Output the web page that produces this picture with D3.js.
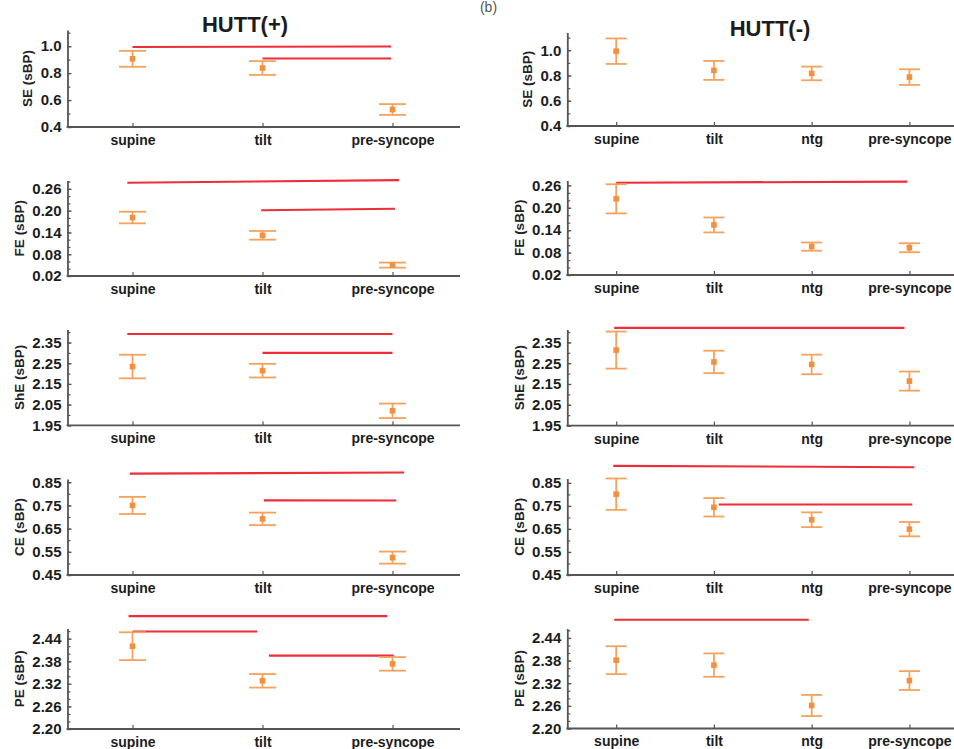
<!DOCTYPE html>
<html>
<head>
<meta charset="utf-8">
<script src="https://cdn.jsdelivr.net/npm/d3@7"></script>
<style>
  body { margin: 0; background: #fff; }
  svg { display: block; font-family: "Liberation Sans", Arial, sans-serif; }
</style>
</head>
<body>
<svg id="chart" width="954" height="749"></svg>
<script>
// ---- data ----
const categoriesPos = ["supine", "tilt", "pre-syncope"];
const categoriesNeg = ["supine", "tilt", "ntg", "pre-syncope"];
const metrics = ["SE", "FE", "ShE", "CE", "PE"];
const unitLabel = "(sBP)";

// HUTT(+) group: mean and error half-width per metric (rows) and condition (columns)
const meanPos = [
  [0.906, 0.838, 0.530],
  [0.181, 0.132, 0.050],
  [2.234, 2.214, 2.020],
  [0.750, 0.692, 0.525],
  [2.420, 2.328, 2.373]
];
const errPos = [
  [0.059, 0.051, 0.040],
  [0.016, 0.012, 0.007],
  [0.057, 0.033, 0.035],
  [0.037, 0.027, 0.026],
  [0.037, 0.018, 0.018]
];

// HUTT(-) group
const meanNeg = [
  [0.992, 0.840, 0.816, 0.787],
  [0.224, 0.154, 0.096, 0.093],
  [2.313, 2.256, 2.244, 2.164],
  [0.801, 0.744, 0.690, 0.649],
  [2.381, 2.368, 2.261, 2.327]
];
const errNeg = [
  [0.101, 0.075, 0.054, 0.062],
  [0.039, 0.020, 0.011, 0.012],
  [0.089, 0.054, 0.047, 0.046],
  [0.068, 0.040, 0.032, 0.031],
  [0.037, 0.031, 0.028, 0.025]
];

// significance bars: [metric index, from (category index), to (category index), y at start, y at end]
const sigPos = [
  [0, 0.00, 1.99, 0.994, 0.998],
  [0, 1.00, 1.99, 0.909, 0.909],
  [1, -0.04, 2.05, 0.277, 0.284],
  [1, 0.99, 2.02, 0.201, 0.205],
  [2, -0.04, 2.00, 2.391, 2.391],
  [2, 1.00, 2.00, 2.300, 2.300],
  [3, -0.02, 2.09, 0.887, 0.892],
  [3, 1.01, 2.03, 0.772, 0.771],
  [4, -0.03, 1.96, 2.500, 2.500],
  [4, 0.00, 0.96, 2.459, 2.459],
  [4, 1.05, 2.01, 2.395, 2.395]
];
const sigNeg = [
  [1, 0.00, 2.98, 0.267, 0.270],
  [2, -0.02, 2.95, 2.420, 2.420],
  [3, -0.03, 3.05, 0.924, 0.918],
  [3, 1.05, 3.03, 0.756, 0.756],
  [4, -0.02, 1.97, 2.488, 2.488]
];

// y axes
const domainsPos = [[0.4, 1.12], [0.02, 0.283], [1.95, 2.413], [0.45, 0.864], [2.2, 2.467]];
const domainsNeg = [[0.4, 1.14], [0.02, 0.273], [1.95, 2.412], [0.45, 0.869], [2.2, 2.465]];
const majorTicks = [
  [0.4, 0.6, 0.8, 1.0],
  [0.02, 0.08, 0.14, 0.20, 0.26],
  [1.95, 2.05, 2.15, 2.25, 2.35],
  [0.45, 0.55, 0.65, 0.75, 0.85],
  [2.20, 2.26, 2.32, 2.38, 2.44]
];
const minorSteps = [0.1, 0.02, 0.05, 0.05, 0.02];
const tickDigits = [1, 2, 2, 2, 2];

// ---- layout ----
const columns = [
  {
    title: "HUTT(+)", titleX: 245, titleY: 32,
    cats: categoriesPos, mean: meanPos, err: errPos, sig: sigPos, domains: domainsPos,
    axisX: 67.5, xEnd: 460, step: 130, capHalf: 13.5,
    tops: [30, 180.5, 329.5, 479, 628.5], bottoms: [127, 276, 425.3, 575, 729]
  },
  {
    title: "HUTT(-)", titleX: 770, titleY: 36,
    cats: categoriesNeg, mean: meanNeg, err: errNeg, sig: sigNeg, domains: domainsNeg,
    axisX: 567.3, xEnd: 954, step: 97.75, capHalf: 10.5,
    tops: [32.5, 180.5, 329.5, 478.5, 628.5], bottoms: [126, 275, 425.6, 575, 728.5]
  }
];

const axisColor = "#555";
const textColor = "#1c1c1c";
const barColor = "#f6a25c";
const markColor = "#f39040";
const sigColor = "#ee2d38";

const svg = d3.select("#chart");

// panel letter at the top edge
svg.append("text")
  .attr("x", 488.5).attr("y", 12)
  .attr("text-anchor", "middle")
  .attr("font-size", 14).attr("fill", "#555")
  .text("(b)");

columns.forEach(col => {
  svg.append("text")
    .attr("x", col.titleX).attr("y", col.titleY)
    .attr("text-anchor", "middle")
    .attr("font-size", 22).attr("font-weight", "bold")
    .attr("fill", textColor)
    .text(col.title);

  const x = d3.scalePoint()
    .domain(col.cats)
    .range([col.axisX, col.axisX + col.step * col.cats.length])
    .padding(0.5);
  const x0 = x(col.cats[0]);
  const xAt = idx => x0 + idx * x.step();

  metrics.forEach((metric, r) => {
    const top = col.tops[r], bottom = col.bottoms[r];
    const dom = col.domains[r];
    const y = d3.scaleLinear().domain(dom).range([bottom, top]);
    const g = svg.append("g");

    // minor y ticks
    const minor = d3.range(majorTicks[r][0] - 10 * minorSteps[r], dom[1] + 1e-9, minorSteps[r])
      .filter(v => v >= dom[0] - 1e-9 && v <= dom[1] + 1e-9);
    g.append("g")
      .attr("transform", `translate(${col.axisX},0)`)
      .call(d3.axisLeft(y).tickValues(minor).tickSize(-3).tickFormat(""))
      .call(a => a.select(".domain").remove())
      .call(a => a.selectAll("line").attr("stroke", axisColor).attr("stroke-width", 1.2));

    // major y ticks and axis line
    const yAxis = g.append("g")
      .attr("transform", `translate(${col.axisX},0)`)
      .call(d3.axisLeft(y)
        .tickValues(majorTicks[r])
        .tickSizeInner(-4).tickSizeOuter(0)
        .tickPadding(6)
        .tickFormat(d3.format(`.${tickDigits[r]}f`)));
    yAxis.select(".domain").attr("stroke", axisColor).attr("stroke-width", 1.8);
    yAxis.selectAll("line").attr("stroke", axisColor).attr("stroke-width", 1.3);
    yAxis.selectAll("text")
      .attr("font-size", 15).attr("font-weight", "bold")
      .attr("font-family", "'Liberation Sans', Arial, sans-serif")
      .attr("fill", textColor);

    // x axis
    const xAxis = g.append("g")
      .attr("transform", `translate(0,${bottom})`)
      .call(d3.axisBottom(x).tickSizeInner(-4).tickSizeOuter(0).tickPadding(8));
    xAxis.select(".domain").remove();
    xAxis.selectAll("line").attr("stroke", axisColor).attr("stroke-width", 1.2);
    xAxis.selectAll("text")
      .attr("font-size", 14).attr("font-weight", "bold")
      .attr("font-family", "'Liberation Sans', Arial, sans-serif")
      .attr("fill", textColor);
    g.append("line")
      .attr("x1", col.axisX - 0.9).attr("x2", col.xEnd)
      .attr("y1", bottom).attr("y2", bottom)
      .attr("stroke", axisColor).attr("stroke-width", 1.8);

    // y axis title, placed just left of the widest tick label
    const labelLeft = d3.min(yAxis.selectAll("text").nodes(), n => n.getBBox().x);
    g.append("text")
      .attr("transform", `translate(${col.axisX + labelLeft - 13},${(top + bottom) / 2}) rotate(-90)`)
      .attr("text-anchor", "middle")
      .attr("dy", "0.35em")
      .attr("font-size", 13.5).attr("font-weight", "bold")
      .attr("fill", "#222")
      .text(`${metric} ${unitLabel}`);

    // significance bars
    col.sig.filter(s => s[0] === r).forEach(s => {
      g.append("line")
        .attr("x1", xAt(s[1])).attr("x2", xAt(s[2]))
        .attr("y1", y(s[3])).attr("y2", y(s[4]))
        .attr("stroke", sigColor).attr("stroke-width", 2.1)
        .attr("stroke-linecap", "butt");
    });

    // error bars with mean markers
    const pts = col.cats.map((c, i) => ({ c, m: col.mean[r][i], e: col.err[r][i] }));
    const eb = g.selectAll(".eb").data(pts).join("g")
      .attr("transform", d => `translate(${x(d.c)},0)`);
    eb.append("line")
      .attr("y1", d => y(d.m - d.e)).attr("y2", d => y(d.m + d.e))
      .attr("stroke", barColor).attr("stroke-width", 1.8);
    eb.append("line")
      .attr("x1", -col.capHalf).attr("x2", col.capHalf)
      .attr("y1", d => y(d.m + d.e)).attr("y2", d => y(d.m + d.e))
      .attr("stroke", barColor).attr("stroke-width", 1.8);
    eb.append("line")
      .attr("x1", -col.capHalf).attr("x2", col.capHalf)
      .attr("y1", d => y(d.m - d.e)).attr("y2", d => y(d.m - d.e))
      .attr("stroke", barColor).attr("stroke-width", 1.8);
    eb.append("rect")
      .attr("x", -2.8).attr("width", 5.6)
      .attr("y", d => y(d.m) - 2.8).attr("height", 5.6)
      .attr("fill", markColor);
  });
});
</script>
</body>
</html>
